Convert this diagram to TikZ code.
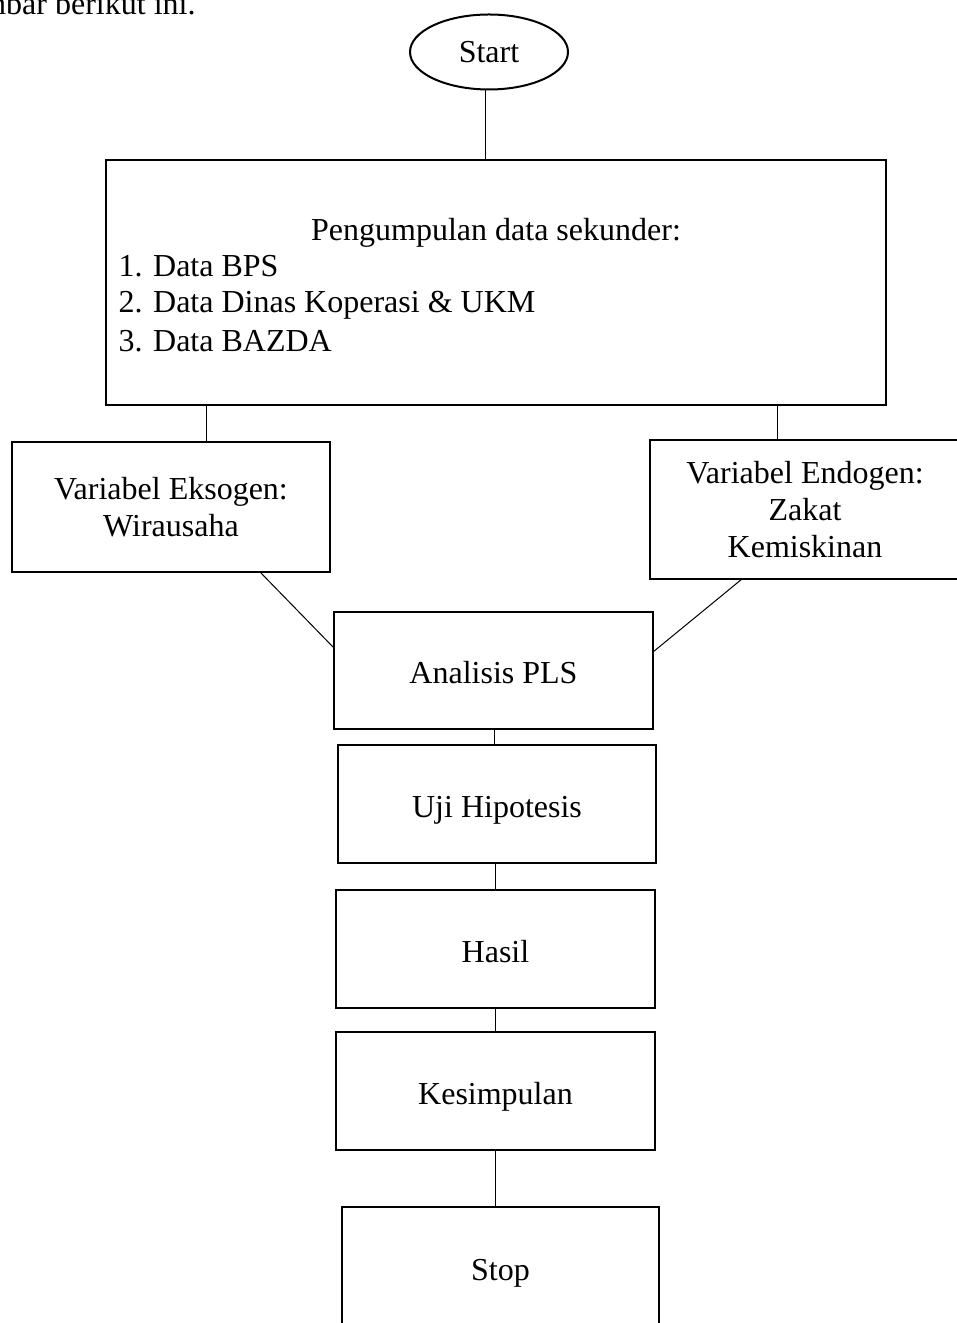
\documentclass[tikz,border=0pt]{standalone}
\usepackage{fontspec}
\setmainfont{Liberation Serif}
\usetikzlibrary{shapes.geometric}
\begin{document}
\begin{tikzpicture}[x=0.4pt,y=-0.4pt,
  font=\fontsize{12.8}{14.8}\selectfont,
  box/.style={draw,line width=0.8pt,rectangle,inner sep=0pt,align=center},
  size/.style 2 args={minimum width={#1*0.4pt},minimum height={#2*0.4pt}},
  oneline/.style={text height=10.6pt,text depth=0pt},
  link/.style={line width=0.4pt}]
\useasboundingbox (0,0) rectangle (957,1323);

% sentence running into the top edge
\node[anchor=base east,inner sep=0pt] (intro) at (196,15) {gambar berikut ini.};

% terminal
\node[draw,ellipse,line width=0.8pt,size={158}{75},inner sep=0pt] (start) at (489,52) {Start};

% data collection
\node[box,size={780}{245}] (data) at (496,282.5) {};
\node[anchor=base,inner sep=0pt] (datatitle) at (496,241) {Pengumpulan data sekunder:};
\node[anchor=base west,inner sep=0pt] (d1) at (118,277) {1. Data BPS};
\node[anchor=base west,inner sep=0pt] (d2) at (118,313) {2. Data Dinas Koperasi \& UKM};
\node[anchor=base west,inner sep=0pt] (d3) at (118,352) {3. Data BAZDA};

% variables
\node[box,size={318}{130}] (exo) at (171,507) {Variabel Eksogen:\\Wirausaha};
\node[box,size={310}{139}] (endo) at (805,509.5) {Variabel Endogen:\\Zakat\\Kemiskinan};

% analysis chain
\node[box,oneline,size={319}{117}] (pls) at (493.5,670.5) {Analisis PLS};
\node[box,oneline,size={318}{118}] (uji) at (497,804) {Uji Hipotesis};
\node[box,oneline,size={319}{118}] (hasil) at (495.5,949) {Hasil};
\node[box,oneline,size={319}{118}] (kes) at (495.5,1091) {Kesimpulan};
\node[box,oneline,size={317}{120}] (stop) at (500.5,1267) {Stop};

% connector end points
\coordinate (cs) at (485,90);
\coordinate (cl) at (206,405);
\coordinate (cr) at (777,405);
\coordinate (el) at (260,572);
\coordinate (pl) at (334,648);
\coordinate (er) at (742,579);
\coordinate (pr) at (653,652);
\coordinate (c1) at (494,729);
\coordinate (c2) at (495,863);
\coordinate (c3) at (495,1008);
\coordinate (c4) at (495,1150);

\draw[link] (cs) -- (cs |- data.north);
\draw[link] (cl) -- (cl |- exo.north);
\draw[link] (cr) -- (cr |- endo.north);
\draw[link] (el) -- (pl);
\draw[link] (er) -- (pr);
\draw[link] (c1) -- (c1 |- uji.north);
\draw[link] (c2) -- (c2 |- hasil.north);
\draw[link] (c3) -- (c3 |- kes.north);
\draw[link] (c4) -- (c4 |- stop.north);
\end{tikzpicture}
\end{document}
